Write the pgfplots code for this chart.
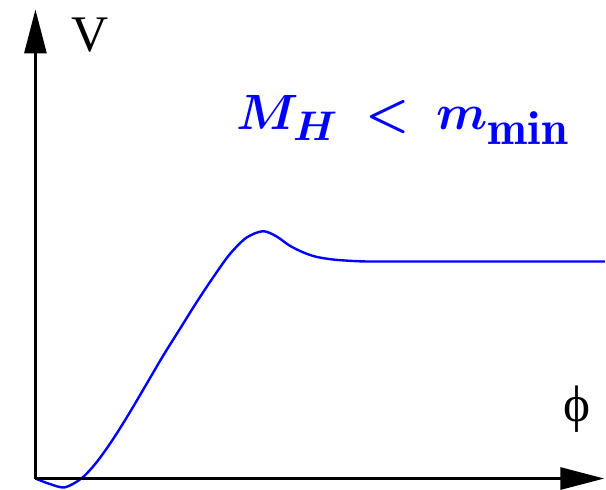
\documentclass[border=0pt]{standalone}
\usepackage[no-math]{fontspec}
\setmainfont{Liberation Serif}
\usepackage{pgfplots}
\pgfplotsset{compat=1.18}
\usetikzlibrary{arrows.meta}
\definecolor{curveblue}{RGB}{0,0,255}
\DeclareMathSizes{27}{27}{21}{15}
% bold upright subscript text in Latin Modern
\newcommand{\boldsub}[1]{\mbox{\fontsize{24}{28}\fontfamily{lmr}\bfseries\selectfont #1}}

\begin{document}
\begin{tikzpicture}
\begin{axis}[
  x=0.5pt, y=0.5pt,
  xmin=-35.5, xmax=570.5,
  ymin=-10.5, ymax=479.5,
  hide axis,
  clip=false,
]
% frame of the picture
\path (rel axis cs:0,0) rectangle (rel axis cs:1,1);

% potential curve
\addplot[curveblue, line width=1.2pt, smooth, tension=0.5] coordinates {
  (0,0) (14.5,-5.5) (29.5,-8.8) (46.2,0.2) (61.2,16.2) (77.8,39.5)
  (94.5,66.2) (111.2,94.5) (127.8,122.8) (144.5,149.5) (161.2,176.2)
  (177.8,201.2) (194.5,224.5) (211.2,241.2) (227.8,247.8) (241.2,242.8)
  (254.5,233.5) (267.8,226.8) (281.2,222.2) (297.8,219.5) (314.5,218.2)
  (331.2,217.5) (364.5,217.5) (450,217.5) (570.5,217.5)
};

% axes
\draw[line width=1.5pt, -{Triangle[length=22pt,width=11pt]}]
  (axis cs:0,0) -- (axis cs:0,470);
\draw[line width=1.5pt, -{Triangle[length=22pt,width=11pt]}]
  (axis cs:0,0) -- (axis cs:570,0);

% labels
\node[font=\fontsize{25.7}{30}\selectfont] at (axis cs:54.5,444.5) {V};
\node[font=\fontsize{25.7}{30}\selectfont] at (axis cs:542.5,69.5) {ϕ};
\node[anchor=base west, inner sep=0pt, text=curveblue,
      font=\fontsize{27}{32}\selectfont\boldmath]
  at (axis cs:201,349.5) {$M_H \mskip3.5mu < \mskip3.5mu m_{\boldsub{min}}$};
\end{axis}
\end{tikzpicture}
\end{document}
